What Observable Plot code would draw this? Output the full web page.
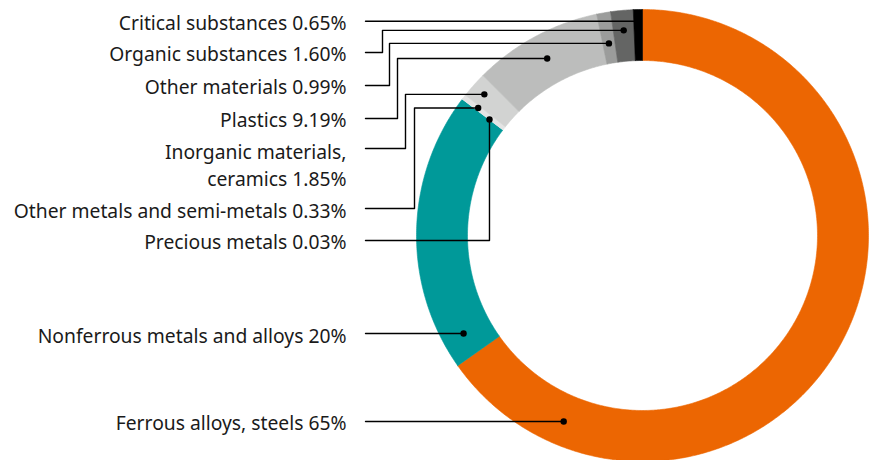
<!DOCTYPE html>
<html>
<head>
<meta charset="utf-8">
<script src="https://cdn.jsdelivr.net/npm/d3@7"></script>
<script src="https://cdn.jsdelivr.net/npm/@observablehq/plot@0.6"></script>
<style>
  html, body { margin: 0; padding: 0; background: #fff; }
  #chart svg { display: block; }
</style>
</head>
<body>
<div id="chart"></div>
<script>
// ---- data ----
const names = [
  "Ferrous alloys, steels",
  "Nonferrous metals and alloys",
  "Precious metals",
  "Other metals and semi-metals",
  "Inorganic materials, ceramics",
  "Plastics",
  "Other materials",
  "Organic substances",
  "Critical substances"
];
const shares = [65, 20, 0.03, 0.33, 1.85, 9.19, 0.99, 1.60, 0.65];
const shareLabels = ["65%", "20%", "0.03%", "0.33%", "1.85%", "9.19%", "0.99%", "1.60%", "0.65%"];
const labelTexts = [
  "Ferrous alloys, steels 65%",
  "Nonferrous metals and alloys 20%",
  "Precious metals 0.03%",
  "Other metals and semi-metals 0.33%",
  "Inorganic materials,\nceramics 1.85%",
  "Plastics 9.19%",
  "Other materials 0.99%",
  "Organic substances 1.60%",
  "Critical substances 0.65%"
];

// ---- layout / style ----
const colors = ["#ec6602", "#009999", "#eeeeee", "#e4e4e4", "#d2d3d2", "#bcbdbc", "#9b9c9b", "#646564", "#000000"];
const W = 869, H = 460;
const cx = 642, cy = 235, rOuter = 226, rInner = 175;
const textX = 346, leaderX0 = 365;
const labelY  = [421, 334, 240, 209, 163.5, 118, 85, 52, 21];
const leaderY = [421, 333, 240, 208, 148, 118, 85, 52, 20.7];
const elbowX  = [null, null, "dot", 414, 405, 397, 389, 382, null];
const dotR    = [202, 204, 192, 208, 212, 201, 195, 206, 214];
const followLabel = [true, true, false, false, false, false, false, false, false];

// ---- geometry from data ----
const arcs = d3.pie().sort(null).value(d => d).startAngle(0).endAngle(2 * Math.PI)(shares);
const pt = (a, r) => [cx + r * Math.sin(a), cy - r * Math.cos(a)];

const slicePts = [];
arcs.forEach((a, i) => {
  const n = Math.max(2, Math.ceil((a.endAngle - a.startAngle) / (Math.PI / 360)));
  const ring = [];
  for (let k = 0; k <= n; k++) ring.push(pt(a.startAngle + (a.endAngle - a.startAngle) * k / n, rOuter));
  for (let k = n; k >= 0; k--) ring.push(pt(a.startAngle + (a.endAngle - a.startAngle) * k / n, rInner));
  ring.push(ring[0]);
  ring.forEach(([x, y]) => slicePts.push({name: names[i], x, y}));
});

const dots = arcs.map((a, i) => {
  let x, y;
  if (followLabel[i]) {
    y = leaderY[i];
    x = cx - Math.sqrt(dotR[i] ** 2 - (y - cy) ** 2);
  } else {
    [x, y] = pt((a.startAngle + a.endAngle) / 2, dotR[i]);
  }
  return {name: names[i], x, y};
});

const leaders = [];
dots.forEach((d, i) => {
  const path = [[leaderX0, leaderY[i]]];
  if (elbowX[i] === "dot") {
    path.push([d.x, leaderY[i]]);
  } else if (elbowX[i] != null) {
    path.push([elbowX[i], leaderY[i]], [elbowX[i], d.y]);
  } else {
    path.push([d.x, leaderY[i]]);
  }
  path.push([d.x, d.y]);
  path.forEach(([x, y]) => leaders.push({name: names[i], x, y}));
});

const labels = names.map((n, i) => ({name: n, text: labelTexts[i], x: textX, y: labelY[i]}));

const chart = Plot.plot({
  width: W,
  height: H,
  margin: 0,
  x: {domain: [0, W], range: [0, W], axis: null},
  y: {domain: [0, H], range: [0, H], axis: null},
  color: {domain: names, range: colors},
  style: {fontFamily: "'Noto Sans', sans-serif", background: "#fff"},
  marks: [
    Plot.line(slicePts, {x: "x", y: "y", z: "name", fill: "name", stroke: "name", strokeWidth: 0.6, curve: "linear"}),
    Plot.line(leaders, {x: "x", y: "y", z: "name", stroke: "#000", strokeWidth: 1.4, curve: "linear"}),
    Plot.dot(dots, {x: "x", y: "y", r: 3.2, fill: "#000", stroke: null}),
    Plot.text(labels, {x: "x", y: "y", text: "text", textAnchor: "end", lineAnchor: "middle", lineHeight: 1.42, fontSize: 19.3, fill: "#1a1a1a"})
  ]
});
document.getElementById("chart").appendChild(chart);
</script>
</body>
</html>
